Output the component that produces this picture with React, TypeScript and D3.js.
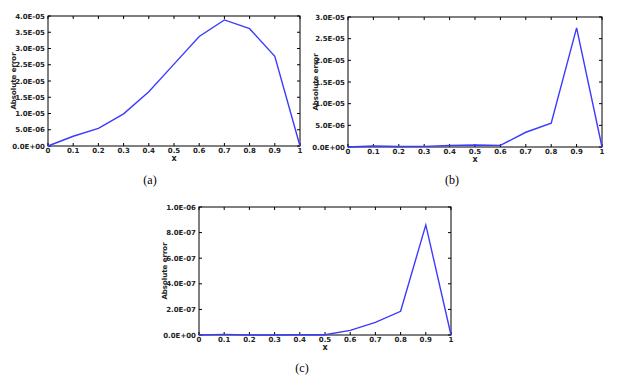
import React from "react";
import * as d3 from "d3";

const xValues = [0, 0.1, 0.2, 0.3, 0.4, 0.5, 0.6, 0.7, 0.8, 0.9, 1];
const errorA = [0, 3.0e-6, 5.4e-6, 9.9e-6, 1.67e-5, 2.52e-5, 3.37e-5, 3.88e-5, 3.61e-5, 2.76e-5, 0];
const errorB = [0, 2.3e-7, 1.0e-7, 1.5e-7, 3.5e-7, 4.6e-7, 3.8e-7, 3.4e-6, 5.5e-6, 2.75e-5, 0];
const errorC = [0, 5e-9, 0, 0, 2e-9, 2e-9, 3.6e-8, 9.9e-8, 1.85e-7, 8.6e-7, 0];
const yTicksA = [0, 5e-6, 1e-5, 1.5e-5, 2e-5, 2.5e-5, 3e-5, 3.5e-5, 4e-5];
const yTicksB = [0, 5e-6, 1e-5, 1.5e-5, 2e-5, 2.5e-5, 3e-5];
const yTicksC = [0, 2e-7, 4e-7, 6e-7, 8e-7, 1e-6];
const xTicks = [0, 0.1, 0.2, 0.3, 0.4, 0.5, 0.6, 0.7, 0.8, 0.9, 1];
const captions = ["(a)", "(b)", "(c)"];

const fmtY = (v: number) => {
  if (v === 0) return "0.0E+00";
  const e = Math.floor(Math.log10(v) + 1e-9);
  const m = v / Math.pow(10, e);
  const sign = e < 0 ? "-" : "+";
  const ae = Math.abs(e);
  return `${m.toFixed(1)}E${sign}${ae < 10 ? "0" + ae : ae}`;
};
const fmtX = (v: number) => (v === 0 ? "0" : v === 1 ? "1" : d3.format(".1f")(v));

type PanelProps = {
  left: number; right: number; top: number; bottom: number;
  values: number[]; yTicks: number[]; yMax: number; labelX: number;
};

function Panel({ left, right, top, bottom, values, yTicks, yMax, labelX }: PanelProps) {
  const x = d3.scaleLinear().domain([0, 1]).range([left, right]);
  const y = d3.scaleLinear().domain([0, yMax]).range([bottom, top]);
  const line = d3.line<number>().x((_, i) => x(xValues[i])).y((d) => y(d));
  const tl = 3;
  const font = "'DejaVu Sans', sans-serif";
  return (
    <g>
      <rect x={left} y={top} width={right - left} height={bottom - top} fill="none" stroke="#000" strokeWidth={1} />
      {xTicks.map((t) => (
        <g key={"x" + t}>
          <line x1={x(t)} x2={x(t)} y1={bottom} y2={bottom - tl} stroke="#000" />
          <line x1={x(t)} x2={x(t)} y1={top} y2={top + tl} stroke="#000" />
          <text x={x(t)} y={bottom + 7} fontSize={7} fontWeight="bold" fontFamily={font} textAnchor="middle" fill="#222">
            {fmtX(t)}
          </text>
        </g>
      ))}
      {yTicks.map((t) => (
        <g key={"y" + t}>
          <line x1={left} x2={left + tl} y1={y(t)} y2={y(t)} stroke="#000" />
          <line x1={right} x2={right - tl} y1={y(t)} y2={y(t)} stroke="#000" />
          <text x={left - 3} y={y(t) + 2.5} fontSize={7} fontWeight="bold" fontFamily={font} textAnchor="end" fill="#222">
            {fmtY(t)}
          </text>
        </g>
      ))}
      <path d={line(values) || ""} fill="none" stroke="#3b3bff" strokeWidth={1.4} />
      <text x={(left + right) / 2} y={bottom + 15} fontSize={8} fontWeight="bold" fontFamily={font} textAnchor="middle" fill="#222">
        x
      </text>
      <text
        transform={`translate(${labelX},${(top + bottom) / 2}) rotate(-90)`}
        fontSize={7}
        fontWeight="bold"
        fontFamily={font}
        textAnchor="middle"
        fill="#222"
      >
        Absolute error
      </text>
    </g>
  );
}

export default function App() {
  const capFont = "'Liberation Serif', serif";
  return (
    <svg width={617} height={383} style={{ position: "absolute", left: 0, top: 0, background: "#fff" }}>
      <rect width={617} height={383} fill="#fff" />
      <Panel left={48} right={300} top={16} bottom={146} values={errorA} yTicks={yTicksA} yMax={4e-5} labelX={16} />
      <Panel left={348} right={602} top={17} bottom={147} values={errorB} yTicks={yTicksB} yMax={3e-5} labelX={318} />
      <Panel left={199} right={451} top={207} bottom={335} values={errorC} yTicks={yTicksC} yMax={1e-6} labelX={167} />
      <text x={150} y={184} fontSize={12} fontFamily={capFont} textAnchor="middle">{captions[0]}</text>
      <text x={452} y={184} fontSize={12} fontFamily={capFont} textAnchor="middle">{captions[1]}</text>
      <text x={302} y={372} fontSize={12} fontFamily={capFont} textAnchor="middle">{captions[2]}</text>
    </svg>
  );
}
